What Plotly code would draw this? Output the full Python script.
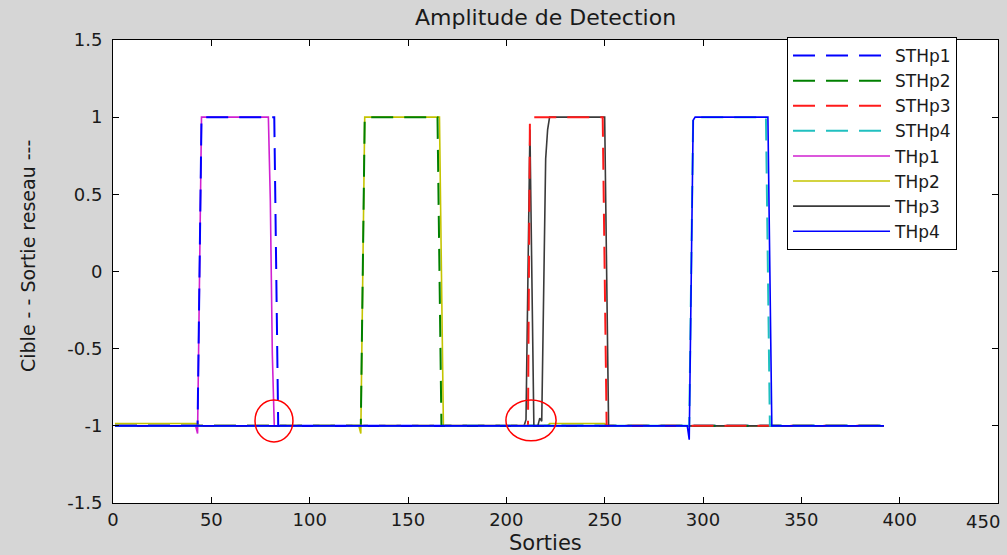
import plotly.graph_objects as go

# ---- data (polyline vertices) ----
STHp1_x = [1, 43, 44, 45, 82, 83, 84, 392]
STHp1_y = [-1, -1, 0, 1, 1, 0, -1, -1]
STHp2_x = [1, 126, 127, 128, 165, 166, 167, 392]
STHp2_y = [-1, -1, 0, 1, 1, 0, -1, -1]
STHp3_x = [1, 211, 212, 249, 250, 251, 392]
STHp3_y = [-1, -1, 1, 1, 0, -1, -1]
STHp4_x = [1, 293, 294, 295, 332, 333, 334, 392]
STHp4_y = [-1, -1, 0, 1, 1, 0, -1, -1]

THp1_x = [1, 42, 43, 44, 45, 79, 80, 81, 82, 392]
THp1_y = [-1, -1, -1.05, 0, 1, 1, 0.46, -0.53, -1, -1]
THp2_x = [1, 43, 44, 125, 126, 127, 128, 166, 167, 168, 221, 222, 250, 251, 392]
THp2_y = [-0.985, -0.985, -1, -1, -1.05, 0, 1, 1, 0, -1, -1, -0.985, -0.985, -1, -1]
THp3_x = [1, 209, 210, 211, 212, 213, 214, 216, 217, 218, 219, 220, 221, 222, 250, 251, 252, 392]
THp3_y = [-1, -1, -0.96, 0, 0.92, -0.05, -1, -1, -0.95, -0.97, -0.12, 0.73, 0.92, 1, 1, 0, -1, -1]
THp4_x = [1, 292, 293, 294, 295, 296, 333, 334, 335, 392]
THp4_y = [-1, -1, -1.09, 0, 0.98, 1, 1, 0, -1, -1]

x_ticks = [0, 50, 100, 150, 200, 250, 300, 350, 400, 450]
x_ticktext = ["0", "50", "100", "150", "200", "250", "300", "350", "400", ""]
last_x_label = "450"
y_ticks = [-1.5, -1, -0.5, 0, 0.5, 1, 1.5]
y_ticktext = ["-1.5", "-1", "-0.5", "0", "0.5", "1", "1.5"]

FONT = "DejaVu Sans, Liberation Sans, Arial, sans-serif"
TXT = "#1a1a1a"

fig = go.Figure()

def add(x, y, name, color, dash, rank, width):
    fig.add_trace(go.Scatter(
        x=x, y=y, name=name, mode="lines",
        line=dict(color=color, width=width, dash=dash),
        legendrank=rank,
    ))

# drawing order: THp1-3, then targets, then THp4 (legend order kept by legendrank)
add(THp1_x, THp1_y, "THp1", "#d020d0", "solid", 5, 1.6)
add(THp2_x, THp2_y, "THp2", "#c4c400", "solid", 6, 1.6)
add(THp3_x, THp3_y, "THp3", "#3a3a3a", "solid", 7, 1.6)
add(STHp1_x, STHp1_y, "STHp1", "#0000ff", "22px,11px", 1, 2)
add(STHp2_x, STHp2_y, "STHp2", "#008000", "22px,11px", 2, 2)
add(STHp3_x, STHp3_y, "STHp3", "#ff1a1a", "22px,11px", 3, 2)
add(STHp4_x, STHp4_y, "STHp4", "#20c0c0", "22px,11px", 4, 2)
add(THp4_x, THp4_y, "THp4", "#0000ff", "solid", 8, 1.6)

# red highlight circles
fig.add_shape(type="circle", xref="x", yref="y", x0=72.2, x1=91.5, y0=-1.104, y1=-0.832,
              line=dict(color="#ff0000", width=1.5))
fig.add_shape(type="circle", xref="x", yref="y", x0=199.8, x1=225.3, y0=-1.097, y1=-0.832,
              line=dict(color="#ff0000", width=1.5))

axis_common = dict(
    showgrid=False, zeroline=False, showline=True, linecolor="black", linewidth=1,
    mirror="ticks", ticks="inside", ticklen=6, tickcolor="black", automargin=False,
    tickfont=dict(family=FONT, size=18, color=TXT),
)

fig.update_layout(
    width=1007, height=555,
    margin=dict(l=113, r=9, t=40, b=52),
    paper_bgcolor="#d6d6d6", plot_bgcolor="white",
    xaxis=dict(range=[0, 450], tickvals=x_ticks, ticktext=x_ticktext,
               ticklabelstandoff=0, **axis_common),
    yaxis=dict(range=[-1.5, 1.5], tickvals=y_ticks, ticktext=y_ticktext,
               ticklabelstandoff=6, **axis_common),
    legend=dict(x=0.7616, y=1.0065, xanchor="left", yanchor="top",
                bgcolor="white", bordercolor="black", borderwidth=1,
                font=dict(family=FONT, size=17, color=TXT),
                itemwidth=97, tracegroupgap=0),
    showlegend=True,
    annotations=[
        dict(text="Amplitude de Detection", xref="paper", yref="paper",
             x=(545 - 113) / 885, y=1 + 22 / 463, xanchor="center", yanchor="middle",
             showarrow=False, font=dict(family=FONT, size=22, color=TXT)),
        dict(text="Sorties", xref="paper", yref="paper",
             x=(545 - 113) / 885, y=-40 / 463, xanchor="center", yanchor="middle",
             showarrow=False, font=dict(family=FONT, size=21, color=TXT)),
        dict(text="Cible - - Sortie reseau ---", xref="paper", yref="paper",
             x=(28 - 113) / 885, y=(503 - 256) / 463, xanchor="center", yanchor="middle",
             textangle=-90, showarrow=False, font=dict(family=FONT, size=19, color=TXT)),
        dict(text=last_x_label, xref="paper", yref="paper",
             x=(1002 - 113) / 885, y=-18 / 463, xanchor="right", yanchor="middle",
             showarrow=False, font=dict(family=FONT, size=18, color=TXT)),
    ],
)

fig.write_html("out.html", config={"displayModeBar": False},
               post_script="document.body.style.margin='0';")
